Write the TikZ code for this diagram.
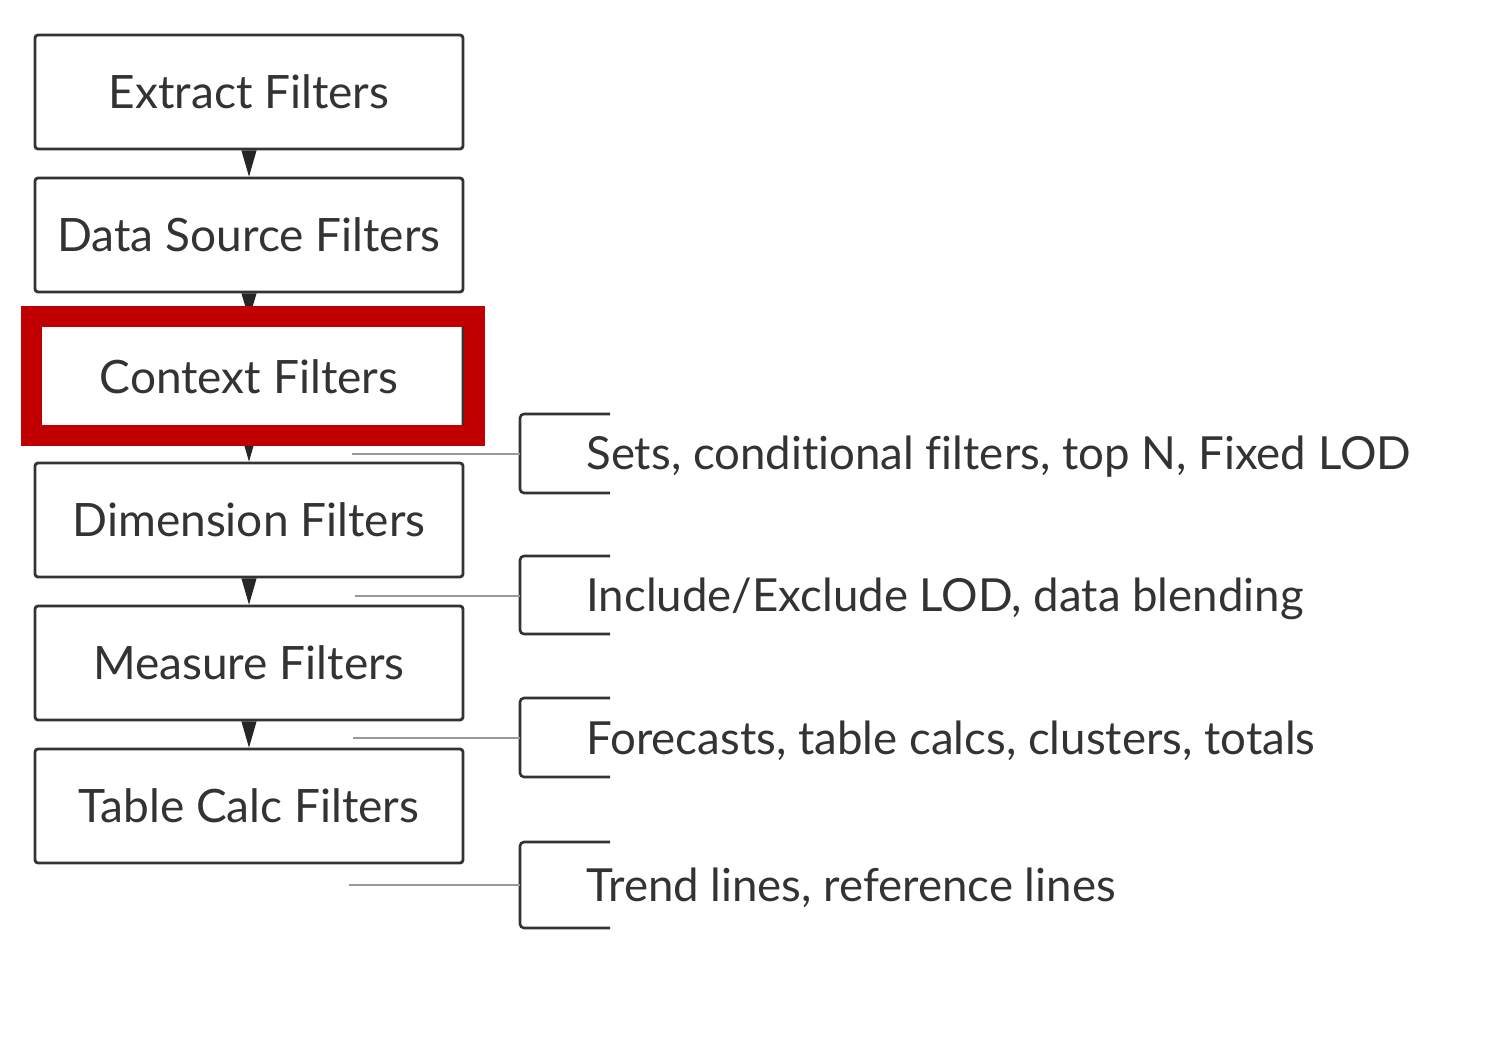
\documentclass[tikz,border=0pt]{standalone}
\usepackage{fontspec}
\setmainfont{Lato}[Ligatures={NoCommon,NoDiscretionary}]
\definecolor{ink}{HTML}{333333}
\definecolor{hlred}{HTML}{C00000}
\definecolor{lightline}{HTML}{999999}
\begin{document}
\begin{tikzpicture}[x=0.5pt,y=-0.5pt,
  stepbox/.style={draw=ink, line width=1.4pt, rounded corners=1.5pt, minimum width=214pt, minimum height=57pt, inner sep=0pt, font=\fontsize{23}{27}\selectfont, text=ink},
  flowtip/.style={fill=black!85},
  bracketline/.style={draw=ink, line width=1.3pt, rounded corners=2pt},
  leader/.style={draw=lightline, line width=1pt},
  note/.style={anchor=west, inner sep=0pt, yshift=-1.2pt, font=\fontsize{22.8}{27}\selectfont, text=ink},
  highlight/.style={draw=hlred, line width=10.5pt, minimum width=221.5pt, minimum height=59.5pt, inner sep=0pt}]
\useasboundingbox[fill=white] (0,0) rectangle (1490,1040);
% boxes
\node[stepbox] (ext) at (249,92) {Extract Filters};
\node[stepbox] (ds) at (249,235) {Data Source Filters};
\node[stepbox] (ctx) at (249,377) {Context Filters};
\node[stepbox] (dim) at (249,520) {Dimension Filters};
\node[stepbox] (mea) at (249,663) {Measure Filters};
\node[stepbox] (tc) at (249,806) {Table Calc Filters};
% arrows
\foreach \a/\b in {ext/ds, ds/ctx, ctx/dim, dim/mea, mea/tc}{
  \fill[flowtip] ([xshift=-3.8pt]\a.south) -- ([xshift=3.8pt]\a.south) -- (\b.north) -- cycle;
}
% highlight frame
\node[highlight] (hl) at (253,376) {};
% brackets
\foreach \i/\yt/\ym/\yb/\xl/\txt in {
  1/414/454/493/352/{Sets, conditional filters, top N, Fixed LOD},
  2/556/596/634/355/{Include/Exclude LOD, data blending},
  3/698/738/777/353/{Forecasts, table calcs, clusters, totals},
  4/842/885/928/349/{Trend lines, reference lines}}{
  \coordinate (bt\i) at (610,\yt);
  \coordinate (bm\i) at (520,\ym);
  \coordinate (bb\i) at (610,\yb);
  \coordinate (ls\i) at (\xl,\ym);
  \draw[bracketline] (bt\i) -- (bt\i -| bm\i) -- (bb\i -| bm\i) -- (bb\i);
  \draw[leader] (ls\i) -- (bm\i);
  \node[note] (n\i) at (586,\ym) {\txt};
}
\end{tikzpicture}
\end{document}
